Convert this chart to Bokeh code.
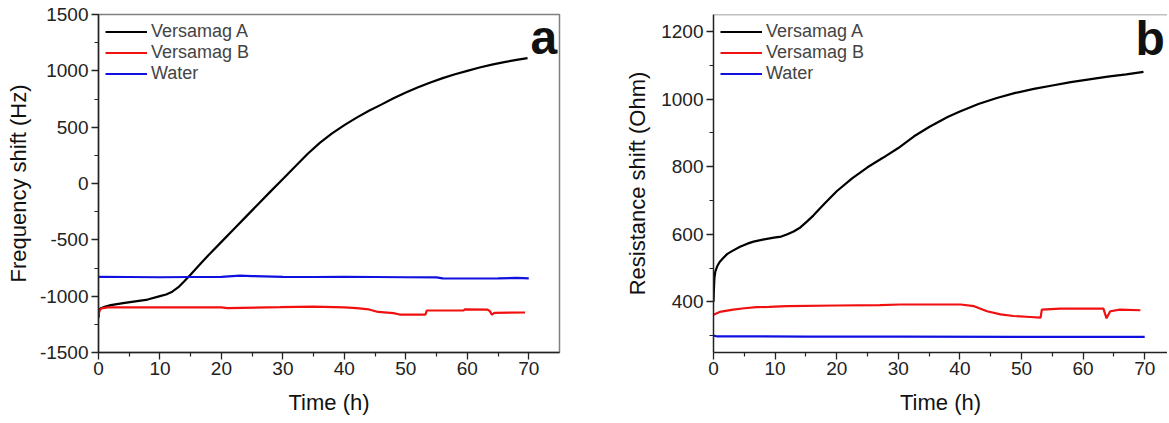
from bokeh.plotting import figure
from bokeh.layouts import row
from bokeh.models import Legend, LegendItem, Label, Span, FixedTicker, PrintfTickFormatter
from bokeh.embed import file_html
from bokeh.resources import INLINE

# ---------------- data ----------------
series_names = ["Versamag A", "Versamag B", "Water"]
series_colors = ["#000000", "#f01010", "#1010e0"]

x_ticks = [0, 10, 20, 30, 40, 50, 60, 70]
x_minor = [5, 15, 25, 35, 45, 55, 65]

# panel a: frequency shift (Hz)
freq_ticks = [-1500, -1000, -500, 0, 500, 1000, 1500]
freq_minor = [-1250, -750, -250, 250, 750, 1250]

tA_f = [0, 0.1, 0.3, 1, 2, 4, 6, 8, 10, 11, 12, 13, 14, 15, 16, 17, 18, 20, 22, 24, 26, 28,
        30, 32, 34, 36, 38, 40, 42, 44, 46, 48, 50, 52, 54, 56, 58, 60, 62, 64, 66, 68, 69.8]
fA = [-1190, -1130, -1110, -1095, -1080, -1062, -1046, -1030, -1000, -985, -960, -920, -865,
      -808, -748, -688, -630, -518, -406, -294, -182, -70, 40, 150, 262, 360, 445, 518, 585,
      645, 700, 757, 808, 855, 897, 935, 970, 1000, 1030, 1055, 1077, 1097, 1113]

tB_f = [0, 0.2, 0.5, 1.5, 10, 20, 21, 29.5, 35, 40, 42, 44, 45.5, 48, 49, 53.2, 53.4, 59.4,
        59.6, 63.3, 63.7, 64, 64.4, 69.4]
fB = [-1165, -1125, -1108, -1100, -1100, -1100, -1106, -1098, -1092, -1100, -1106, -1118,
      -1140, -1151, -1163, -1163, -1127, -1127, -1118, -1120, -1135, -1165, -1148, -1145]

tW_f = [0, 5, 10, 15, 20, 23, 25, 30, 35, 40, 45, 50, 55, 56, 60, 65, 68, 70]
fW = [-828, -830, -832, -830, -828, -818, -822, -828, -830, -828, -830, -832, -833, -842,
      -843, -842, -838, -842]

# panel b: resistance shift (Ohm)
res_ticks = [400, 600, 800, 1000, 1200]
res_minor = [300, 500, 700, 900, 1100]

tA_r = [0, 0.05, 0.15, 0.3, 0.6, 1, 1.5, 2.2, 3, 4.3, 5.5, 6.5, 8, 9.8, 11, 12, 13, 14.1,
        15.2, 16.2, 18, 20, 22.5, 25, 27.5, 30, 32.5, 35, 38, 40, 43, 46, 49, 52, 55, 58, 61,
        64, 67, 69.8]
rA = [400, 430, 470, 490, 505, 518, 528, 541, 550, 563, 572, 578, 584, 590, 593, 600, 608,
      620, 638, 655, 690, 727, 765, 798, 826, 855, 889, 917, 947, 963, 985, 1003, 1018, 1030,
      1040, 1050, 1058, 1066, 1073, 1080]

tB_r = [0, 1, 3.2, 5, 7, 9, 11.9, 20, 27, 30.3, 40.1, 42.3, 44.4, 46.6, 48.7, 51.4, 53.1,
        53.3, 56.3, 63.3, 63.8, 64.4, 66, 69.3]
rB = [362, 370, 377, 381, 384, 385, 387, 389, 390, 392, 392, 387, 372, 363, 358, 355, 353,
      377, 380, 380, 351, 372, 377, 375]

tW_r = [0, 0.5, 5, 15, 30, 50, 70]
rW = [300, 298, 298, 297, 297, 296, 296]

FONT = "Liberation Sans"


def style_axes(p, yticks, yminor, ylabel, ytitle_standoff):
    p.xaxis.ticker = FixedTicker(ticks=x_ticks, minor_ticks=x_minor)
    p.yaxis.ticker = FixedTicker(ticks=yticks, minor_ticks=yminor)
    p.xaxis.formatter = PrintfTickFormatter(format="%d")
    p.yaxis.formatter = PrintfTickFormatter(format="%d")
    p.xaxis.axis_label = "Time (h)"
    p.yaxis.axis_label = ylabel
    for ax in [p.xaxis[0], p.yaxis[0]]:
        ax.axis_line_color = "#222222"
        ax.axis_line_width = 1.5
        ax.major_tick_line_color = "#222222"
        ax.minor_tick_line_color = "#222222"
        ax.major_tick_line_width = 1.3
        ax.minor_tick_line_width = 1.2
        ax.major_tick_out = 7
        ax.major_tick_in = 0
        ax.minor_tick_out = 4
        ax.minor_tick_in = 0
        ax.major_label_text_font = FONT
        ax.major_label_text_font_size = "19px"
        ax.major_label_text_color = "#222222"
        ax.axis_label_text_font = FONT
        ax.axis_label_text_font_size = "22px"
        ax.axis_label_text_font_style = "normal"
        ax.axis_label_text_color = "#111111"
    p.xaxis.major_label_standoff = 2
    p.xaxis.axis_label_standoff = 12
    p.yaxis.major_label_standoff = 3
    p.yaxis.axis_label_standoff = ytitle_standoff
    p.xgrid.visible = False
    p.ygrid.visible = False


def add_lines(p, data):
    items = []
    for (t, v), name, col in zip(data, series_names, series_colors):
        r = p.line(t, v, line_color=col, line_width=2.2)
        items.append(LegendItem(label=name, renderers=[r]))
    leg = Legend(items=items, location="top_left", glyph_width=42, glyph_height=21,
                 label_height=21, spacing=0, padding=0, margin=7, label_standoff=4,
                 border_line_color=None, background_fill_alpha=0,
                 label_text_font=FONT, label_text_font_size="18px")
    p.add_layout(leg)


# ---------------- panel a ----------------
pa = figure(width=598, height=420, x_range=(0, 75), y_range=(-1500, 1500),
            output_backend="svg", toolbar_location=None,
            min_border_left=98, min_border_right=39, min_border_top=14, min_border_bottom=68)
pa.outline_line_color = "#808080"
pa.outline_line_width = 1.5
style_axes(pa, freq_ticks, freq_minor, "Frequency shift (Hz)", 6)
add_lines(pa, [(tA_f, fA), (tB_f, fB), (tW_f, fW)])
pa.add_layout(Label(x=70.3, y=1292, text="a", text_font=FONT, text_font_style="bold",
                    text_font_size="48px", text_baseline="middle", text_color="#111111"))

# ---------------- panel b ----------------
pb = figure(width=569, height=420, x_range=(0, 73.7), y_range=(250, 1250),
            output_backend="svg", toolbar_location=None,
            min_border_left=115, min_border_right=0, min_border_top=14, min_border_bottom=68)
pb.outline_line_color = None
pb.add_layout(Span(location=1250, dimension="width", line_color="#808080", line_width=1.5))
style_axes(pb, res_ticks, res_minor, "Resistance shift (Ohm)", 8)
add_lines(pb, [(tA_r, rA), (tB_r, rB), (tW_r, rW)])
pb.add_layout(Label(x=68.5, y=1178, text="b", text_font=FONT, text_font_style="bold",
                    text_font_size="48px", text_baseline="middle", text_color="#111111"))

layout = row(pa, pb, spacing=0)
open("out.html", "w").write(file_html(layout, INLINE))
